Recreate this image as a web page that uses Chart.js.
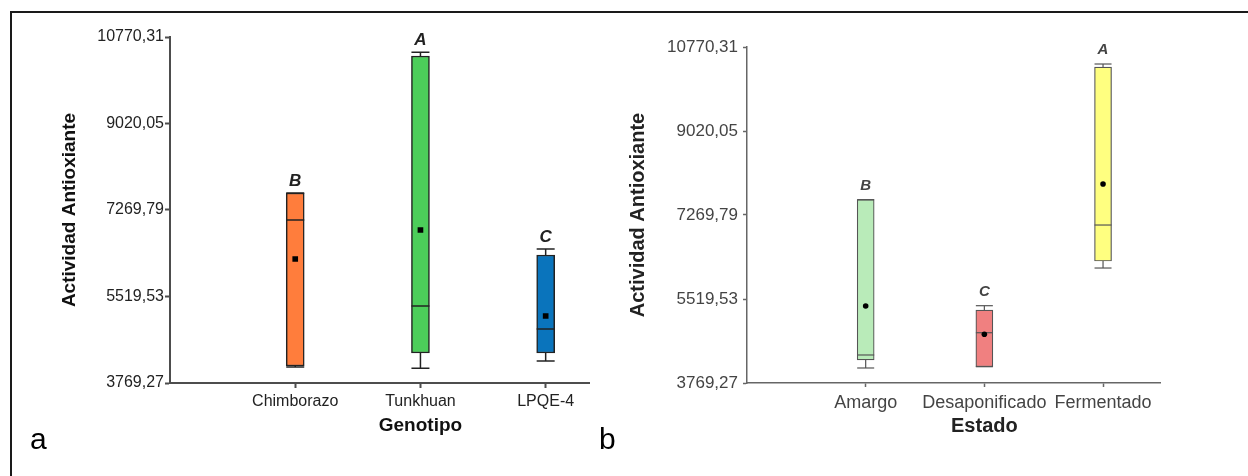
<!DOCTYPE html>
<html>
<head>
<meta charset="utf-8">
<script src="https://cdn.jsdelivr.net/npm/chart.js@4.4.1/dist/chart.umd.min.js"></script>
<style>
  body { margin: 0; background: #fff; width: 1248px; height: 476px; overflow: hidden; position: relative; font-family: "Liberation Sans", Arial, sans-serif; }
  #frame { position: absolute; left: 10px; top: 11px; width: 1240px; height: 470px; border-top: 2px solid #1a1a1a; border-left: 2px solid #1a1a1a; }
  .panel { position: absolute; top: 0; }
  .tag { position: absolute; font-size: 30px; line-height: 30px; color: #000; }
</style>
</head>
<body>
<div id="frame"></div>
<div class="panel" style="left:0"><canvas id="chartA" width="600" height="476"></canvas></div>
<div class="panel" style="left:600px"><canvas id="chartB" width="648" height="476"></canvas></div>
<div class="tag" style="left:30px; top:424px">a</div>
<div class="tag" style="left:599px; top:424px">b</div>
<script>
// eje Y comun a las dos figuras
const yTicks = [3769.27, 5519.53, 7269.79, 9020.05, 10770.31]
const yTickLabels = ['3769,27', '5519,53', '7269,79', '9020,05', '10770,31']

// a) Genotipo
const genotipos = ['Chimborazo', 'Tunkhuan', 'LPQE-4']
const minA = [4095, 4070, 4214]
const q1A = [4113, 4376, 4376]
const medA = [7067, 5327, 4862]
const q3A = [7614, 10386, 6359]
const maxA = [7614, 10460, 6481]
const meanA = [6278, 6865, 5125]
const letrasA = ['B', 'A', 'C']

// b) Estado
const estados = ['Amargo', 'Desaponificado', 'Fermentado']
const minB = [4082, 4109, 6165]
const q1B = [4249, 4109, 6311]
const medB = [4353, 4817, 7061]
const q3B = [7590, 5290, 10353]
const maxB = [7590, 5380, 10416]
const meanB = [5374, 4784, 7915]
const letrasB = ['B', 'C', 'A']

const annot = {
    id: 'annot',
    afterDatasetsDraw(chart, args, o) {
        const ctx = chart.ctx, x = chart.scales.x, y = chart.scales.y
        ctx.save()
        ctx.textAlign = 'center'
        ctx.textBaseline = 'middle'
        ctx.font = o.letterFont
        ctx.fillStyle = o.letterColor
        o.letters.forEach((t, i) => {
            ctx.fillText(t, x.getPixelForValue(i + 1), y.getPixelForValue(o.tops[i]) - o.gap)
        })
        ctx.font = o.titleFont
        ctx.fillStyle = o.titleColor
        ctx.fillText(o.title, x.getPixelForValue(2), x.bottom - o.titleLift)
        ctx.restore()
    }
}

function boxChart(id, s) {
    const pos = s.groups.map((g, i) => i + 1)
    let stems = []
    pos.forEach((x, i) => {
        stems.push({x: x, y: s.lo[i]}, {x: x, y: s.q1[i]}, {x: x, y: null})
        stems.push({x: x, y: s.q3[i]}, {x: x, y: s.hi[i]}, {x: x, y: null})
    })
    let caps = []
    pos.forEach((x, i) => { caps.push({x: x, y: s.lo[i]}, {x: x, y: s.hi[i]}) })

    new Chart(document.getElementById(id), {
        type: 'bar',
        data: {
            datasets: [{
                type: 'bar',
                data: pos.map((x, i) => ({x: x, y: [s.q1[i], s.q3[i]]})),
                backgroundColor: s.fill,
                borderColor: s.edge,
                borderWidth: s.lw,
                borderSkipped: false,
                barThickness: s.boxW,
                maxBarThickness: s.boxW,
                grouped: false,
                order: 3
            }, {
                type: 'line',
                data: stems,
                borderColor: s.edge,
                borderWidth: s.lw,
                pointRadius: 0,
                spanGaps: false,
                order: 4
            }, {
                type: 'scatter',
                data: pos.map((x, i) => ({x: x, y: s.med[i]})),
                pointStyle: 'line',
                pointRadius: s.boxW / 2,
                pointBorderColor: s.edge,
                pointBorderWidth: s.lw,
                order: 1
            }, {
                type: 'scatter',
                data: caps,
                pointStyle: 'line',
                pointRadius: s.boxW / 2,
                pointBorderColor: s.edge,
                pointBorderWidth: s.lw,
                order: 2
            }, {
                type: 'scatter',
                data: pos.map((x, i) => ({x: x, y: s.mean[i]})),
                pointStyle: s.meanStyle,
                pointRadius: s.meanR,
                pointBackgroundColor: '#000',
                pointBorderWidth: 0,
                order: 0
            }]
        },
        options: {
            responsive: false,
            animation: false,
            layout: { padding: { left: 0, top: s.top, right: s.right, bottom: 33 } },
            plugins: {
                legend: { display: false },
                tooltip: { enabled: false },
                annot: {
                    letters: s.letters, tops: s.hi, gap: s.gap,
                    letterFont: s.letterFont, letterColor: s.text,
                    title: s.xTitle, titleFont: s.titleFont, titleColor: s.titleColor, titleLift: 17
                }
            },
            scales: {
                x: {
                    type: 'linear', min: 0, max: s.xMax, offset: false,
                    afterBuildTicks: sc => { sc.ticks = pos.map(v => ({value: v})) },
                    afterFit: sc => { sc.height = 60 },
                    grid: { display: true, offset: false, drawOnChartArea: false, drawTicks: true, tickLength: s.tickLen, tickColor: s.axis, tickWidth: s.axisW },
                    border: { display: true, color: s.axis, width: s.axisW },
                    ticks: {
                        callback: (v, i) => s.groups[i],
                        font: { family: 'Liberation Sans', size: s.catSize },
                        color: s.text, padding: s.xPad, maxRotation: 0, autoSkip: false
                    }
                },
                y: {
                    min: yTicks[0], max: yTicks[yTicks.length - 1],
                    afterBuildTicks: sc => { sc.ticks = yTicks.map(v => ({value: v})) },
                    afterFit: sc => { sc.width = s.yW },
                    grid: { display: true, drawOnChartArea: false, drawTicks: true, tickLength: s.tickLen, tickColor: s.axis, tickWidth: s.axisW },
                    border: { display: true, color: s.axis, width: s.axisW },
                    ticks: {
                        callback: (v, i) => yTickLabels[i],
                        font: { family: 'Liberation Sans', size: s.tickSize },
                        color: s.text, padding: s.yPad, autoSkip: false
                    },
                    title: {
                        display: true, text: 'Actividad Antioxiante',
                        font: { family: 'Liberation Sans', size: s.yTitleSize, weight: 'bold' },
                        color: s.titleColor, padding: { top: s.yTitlePad, bottom: 0 }
                    }
                }
            }
        },
        plugins: [annot]
    })
}

boxChart('chartA', {
    groups: genotipos, lo: minA, q1: q1A, med: medA, q3: q3A, hi: maxA, mean: meanA, letters: letrasA,
    fill: ['#ff7d3c', '#4ccd5a', '#0a74bc'], edge: '#222', lw: 1.5, boxW: 18,
    meanStyle: 'rect', meanR: 4,
    top: 37, right: 8, xMax: 3.35, yW: 170, yTitleSize: 19, yTitlePad: 58,
    tickLen: 5, yPad: 1, xPad: 4, axis: '#4d4d4d', axisW: 2,
    catSize: 16, tickSize: 16, text: '#222', titleColor: '#111',
    gap: 12, letterFont: 'italic bold 17px "Liberation Sans"',
    xTitle: 'Genotipo', titleFont: 'bold 19px "Liberation Sans"'
})

boxChart('chartB', {
    groups: estados, lo: minB, q1: q1B, med: medB, q3: q3B, hi: maxB, mean: meanB, letters: letrasB,
    fill: ['#b9ebb9', '#f08080', '#ffff80'], edge: '#555', lw: 1.2, boxW: 17,
    meanStyle: 'circle', meanR: 2.8,
    top: 47, right: 88, xMax: 3.48, yW: 147, yTitleSize: 20, yTitlePad: 26,
    tickLen: 4, yPad: 5, xPad: 5, axis: '#666', axisW: 1.5,
    catSize: 18, tickSize: 17, text: '#444', titleColor: '#222',
    gap: 14, letterFont: 'italic bold 15px "Liberation Sans"',
    xTitle: 'Estado', titleFont: 'bold 20px "Liberation Sans"'
})
</script>
</body>
</html>
